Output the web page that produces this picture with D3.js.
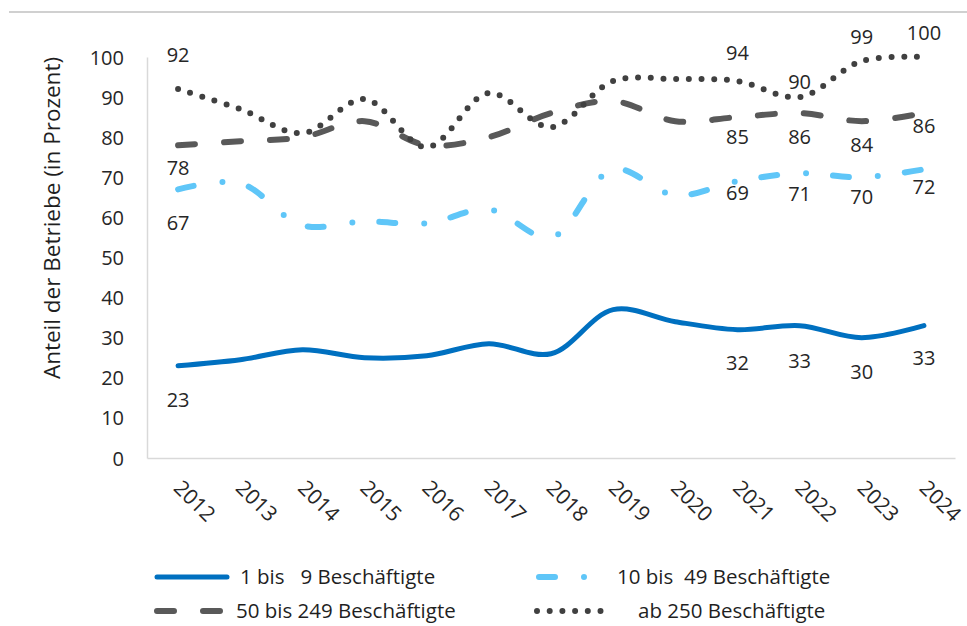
<!DOCTYPE html>
<html>
<head>
  <meta charset="UTF-8">
  <title>Anteil der Betriebe nach Größe</title>
  <script src="https://cdnjs.cloudflare.com/ajax/libs/d3/7.8.5/d3.min.js"></script>
  <style>
    body { margin: 0; background: #fff; }
    svg { display: block; font-family: "Open Sans", sans-serif; }
    .axis path { stroke: #d9d9d9; stroke-width: 1.5; }
    .axis text { fill: #262626; font-size: 20px; font-family: "Open Sans", sans-serif; }
  </style>
</head>
<body>
<svg id="chart" width="967" height="626"></svg>
<script>
// Data
var years = ['2012', '2013', '2014', '2015', '2016', '2017', '2018', '2019', '2020', '2021', '2022', '2023', '2024'];
var small = [23, 24.5, 27, 25, 25.5, 28.5, 26, 37, 34, 32, 33, 30, 33];
var medium = [67, 68.5, 58, 59, 58.5, 62, 55, 72, 65.5, 69, 71, 70, 72];
var large = [78, 79, 80, 84, 78, 80, 86, 89, 84, 85, 86, 84, 86];
var xlarge = [92, 87, 81, 89.5, 77.5, 91, 82.5, 94, 94.5, 94, 90, 99, 100];
var yTicks = [0, 10, 20, 30, 40, 50, 60, 70, 80, 90, 100];
var labelled = [0, 9, 10, 11, 12];

// Series styles
var series = [
  { name: '1 bis   9 Beschäftigte', values: small, color: '#0070c0', width: 5, dash: null,
    labelDy: [34, 33, 35, 34, 32] },
  { name: '10 bis  49 Beschäftigte', values: medium, color: '#5fc6f8', width: 6, dash: '16 29 0 27',
    labelDy: [34, 12, 21, 20, 18] },
  { name: '50 bis 249 Beschäftigte', values: large, color: '#595959', width: 6, dash: '17 29',
    labelDy: [23, 20, 24, 24, 13] },
  { name: 'ab 250 Beschäftigte', values: xlarge, color: '#404040', width: 6, dash: '0 12.7',
    labelDy: [-34, -28, -15, -24, -24] }
];

var svg = d3.select('#chart');

// top rule
svg.append('line')
  .attr('x1', 9).attr('x2', 967).attr('y1', 12).attr('y2', 12)
  .style('stroke', '#c0c0c0').style('stroke-width', 1.5);

var x = d3.scalePoint().domain(years).range([147, 955]).padding(0.5);
var y = d3.scaleLinear().domain([0, 100]).range([458, 57]);

// Axes
svg.append('g')
  .attr('class', 'axis')
  .attr('transform', 'translate(147,0)')
  .call(d3.axisLeft(y).tickValues(yTicks).tickSize(0).tickPadding(23))
  .selectAll('.tick text').attr('dy', '0.35em');

var xAxis = svg.append('g')
  .attr('class', 'axis')
  .attr('transform', 'translate(0,458)')
  .call(d3.axisBottom(x).tickSize(0).tickSizeOuter(0));
xAxis.selectAll('.tick text')
  .attr('text-anchor', 'start')
  .attr('y', 0).attr('dy', '0.75em')
  .style('font-size', '21px')
  .attr('transform', 'translate(5,20) rotate(45)');

svg.append('text')
  .attr('transform', 'translate(52,218) rotate(-90)')
  .attr('text-anchor', 'middle')
  .attr('dy', '0.35em')
  .style('font-size', '22.5px')
  .style('fill', '#1f1f1f')
  .text('Anteil der Betriebe (in Prozent)');

// Lines
var line = d3.line()
  .x(function(d, i) { return x(years[i]); })
  .y(function(d) { return y(d); })
  .curve(d3.curveCatmullRom.alpha(0.5));

series.forEach(function(s) {
  svg.append('path')
    .datum(s.values)
    .attr('d', line)
    .style('fill', 'none')
    .style('stroke', s.color)
    .style('stroke-width', s.width)
    .style('stroke-linecap', 'round')
    .style('stroke-dasharray', s.dash);
});

// Data labels
series.forEach(function(s) {
  svg.append('g').selectAll('text')
    .data(labelled)
    .enter().append('text')
    .attr('x', function(i) { return x(years[i]); })
    .attr('y', function(i, k) { return y(s.values[i]) + s.labelDy[k]; })
    .attr('dy', '0.35em')
    .attr('text-anchor', 'middle')
    .style('font-size', '20px')
    .style('fill', '#262626')
    .text(function(i) { return d3.format('.0f')(s.values[i]); });
});

// Legend
var legendPos = [
  { x: 155, y: 577, tx: 240 },
  { x: 537, y: 577, tx: 617 },
  { x: 155, y: 611, tx: 236 },
  { x: 537, y: 611, tx: 638 }
];
series.forEach(function(s, i) {
  var p = legendPos[i];
  var g = svg.append('g').attr('transform', 'translate(' + p.x + ',' + p.y + ')');
  g.append('line')
    .attr('x1', i === 3 ? 0 : 2).attr('x2', i === 3 ? 66 : (i === 1 ? 50 : 72))
    .style('stroke', s.color)
    .style('stroke-width', s.width)
    .style('stroke-linecap', 'round')
    .style('stroke-dasharray', s.dash);
  g.append('text')
    .attr('x', p.tx - p.x)
    .attr('dy', '0.35em')
    .style('font-size', '20.5px')
    .style('fill', '#1f1f1f')
    .style('white-space', 'pre')
    .text(s.name);
});
</script>
</body>
</html>
